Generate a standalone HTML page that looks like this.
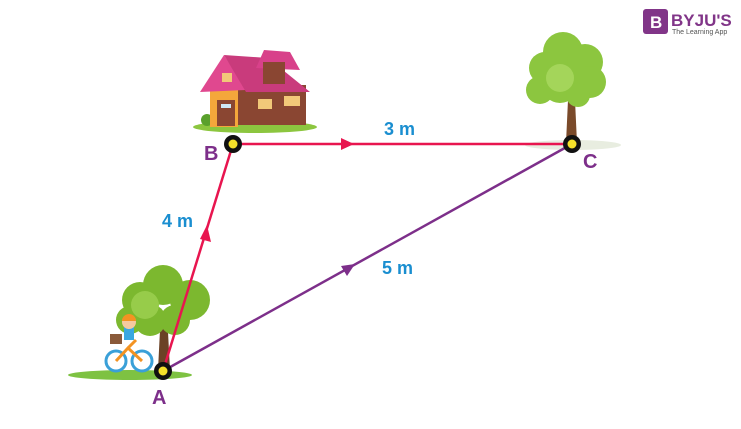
<!DOCTYPE html>
<html><head><meta charset="utf-8"><style>
html,body{margin:0;padding:0;background:#fff;}
svg{display:block;font-family:"Liberation Sans",Arial,sans-serif;}
</style></head><body>
<svg width="741" height="429" viewBox="0 0 741 429">
<!-- Logo -->
<rect x="643" y="9" width="25" height="25" rx="3" fill="#813588"/>
<text x="650" y="28" font-size="17" font-weight="bold" fill="#fff">B</text>
<text x="671" y="26" font-size="17" font-weight="bold" fill="#813588">BYJU'S</text>
<text x="672" y="34" font-size="7" fill="#555">The Learning App</text>

<!-- Tree C -->
<ellipse cx="573" cy="145" rx="48" ry="5" fill="#e8ede0"/>
<path d="M566 143 L568 100 L560 92 L564 90 L570 96 L576 88 L580 90 L575 100 L577 143 Z" fill="#7a4a2a"/>
<g fill="#8cc63f">
<circle cx="563" cy="52" r="20"/><circle cx="585" cy="62" r="18"/><circle cx="590" cy="82" r="16"/>
<circle cx="545" cy="68" r="16"/><circle cx="540" cy="90" r="14"/><circle cx="560" cy="85" r="18"/><circle cx="578" cy="95" r="12"/>
</g>
<circle cx="560" cy="78" r="14" fill="#a4d55a"/>

<!-- House -->
<ellipse cx="255" cy="127" rx="62" ry="6" fill="#8cc63f"/>
<circle cx="207" cy="120" r="6" fill="#5aa02c"/><circle cx="295" cy="120" r="5" fill="#5aa02c"/>
<rect x="210" y="85" width="28" height="42" fill="#f4a73b"/>
<rect x="238" y="85" width="68" height="40" fill="#8a4632"/>
<polygon points="200,92 224,55 246,90" fill="#e0488f"/>
<polygon points="224,55 268,58 310,92 246,92" fill="#c93b7c"/>
<polygon points="256,68 264,50 290,52 300,70" fill="#d8418a"/>
<rect x="263" y="62" width="22" height="22" fill="#8a4632"/>
<rect x="217" y="100" width="18" height="26" fill="#8a4632"/>
<rect x="221" y="104" width="10" height="4" fill="#cfe8f5"/>
<rect x="258" y="99" width="14" height="10" fill="#f2c879"/>
<rect x="284" y="96" width="16" height="10" fill="#f2c879"/>
<rect x="222" y="73" width="10" height="9" fill="#f2c879"/>

<!-- Tree A -->
<ellipse cx="130" cy="375" rx="62" ry="5" fill="#7ec242"/>
<path d="M158 370 L160 330 L150 322 L155 320 L163 327 L172 318 L176 321 L168 332 L170 370 Z" fill="#6b4226"/>
<g fill="#7cb82f">
<circle cx="163" cy="285" r="20"/><circle cx="190" cy="300" r="20"/><circle cx="140" cy="300" r="18"/>
<circle cx="130" cy="320" r="14"/><circle cx="175" cy="320" r="15"/><circle cx="150" cy="320" r="16"/>
</g>
<circle cx="145" cy="305" r="14" fill="#97cc4a"/>
<!-- bike -->
<circle cx="116" cy="361" r="10" fill="#fff" stroke="#3aa0d8" stroke-width="3"/>
<circle cx="142" cy="361" r="10" fill="#fff" stroke="#3aa0d8" stroke-width="3"/>
<path d="M116 361 L128 348 L142 361 M128 348 L136 340" stroke="#f39322" stroke-width="3" fill="none"/>
<rect x="110" y="334" width="12" height="10" fill="#8a5a3a"/>
<rect x="124" y="326" width="10" height="14" fill="#3aa7e0"/>
<circle cx="129" cy="322" r="7" fill="#f5c9a0"/>
<path d="M122 321 A7 7 0 0 1 136 321 Z" fill="#f39322"/>

<!-- Lines -->
<line x1="233" y1="144" x2="572" y2="144" stroke="#e8154f" stroke-width="2.5"/>
<line x1="163" y1="371" x2="233" y2="144" stroke="#e8154f" stroke-width="2.5"/>
<line x1="163" y1="371" x2="572" y2="144" stroke="#7d2f8a" stroke-width="2.5"/>
<polygon points="354,144 341,138 341,150" fill="#e8154f"/>
<polygon points="207,225 200,239 211,242" fill="#e8154f"/>
<polygon points="355,264 341,266 347,276" fill="#7d2f8a"/>

<!-- Nodes -->
<g>
<circle cx="233" cy="144" r="9" fill="#111"/><circle cx="233" cy="144" r="4.5" fill="#f5e12a"/>
<circle cx="572" cy="144" r="9" fill="#111"/><circle cx="572" cy="144" r="4.5" fill="#f5e12a"/>
<circle cx="163" cy="371" r="9" fill="#111"/><circle cx="163" cy="371" r="4.5" fill="#f5e12a"/>
</g>

<!-- Labels -->
<g font-size="20" font-weight="bold" fill="#7d2f8a">
<text x="204" y="160">B</text>
<text x="583" y="168">C</text>
<text x="152" y="404">A</text>
</g>
<g font-size="18" font-weight="bold" fill="#1a8ed0">
<text x="384" y="135">3 m</text>
<text x="162" y="227">4 m</text>
<text x="382" y="274">5 m</text>
</g>
</svg>
</body></html>
